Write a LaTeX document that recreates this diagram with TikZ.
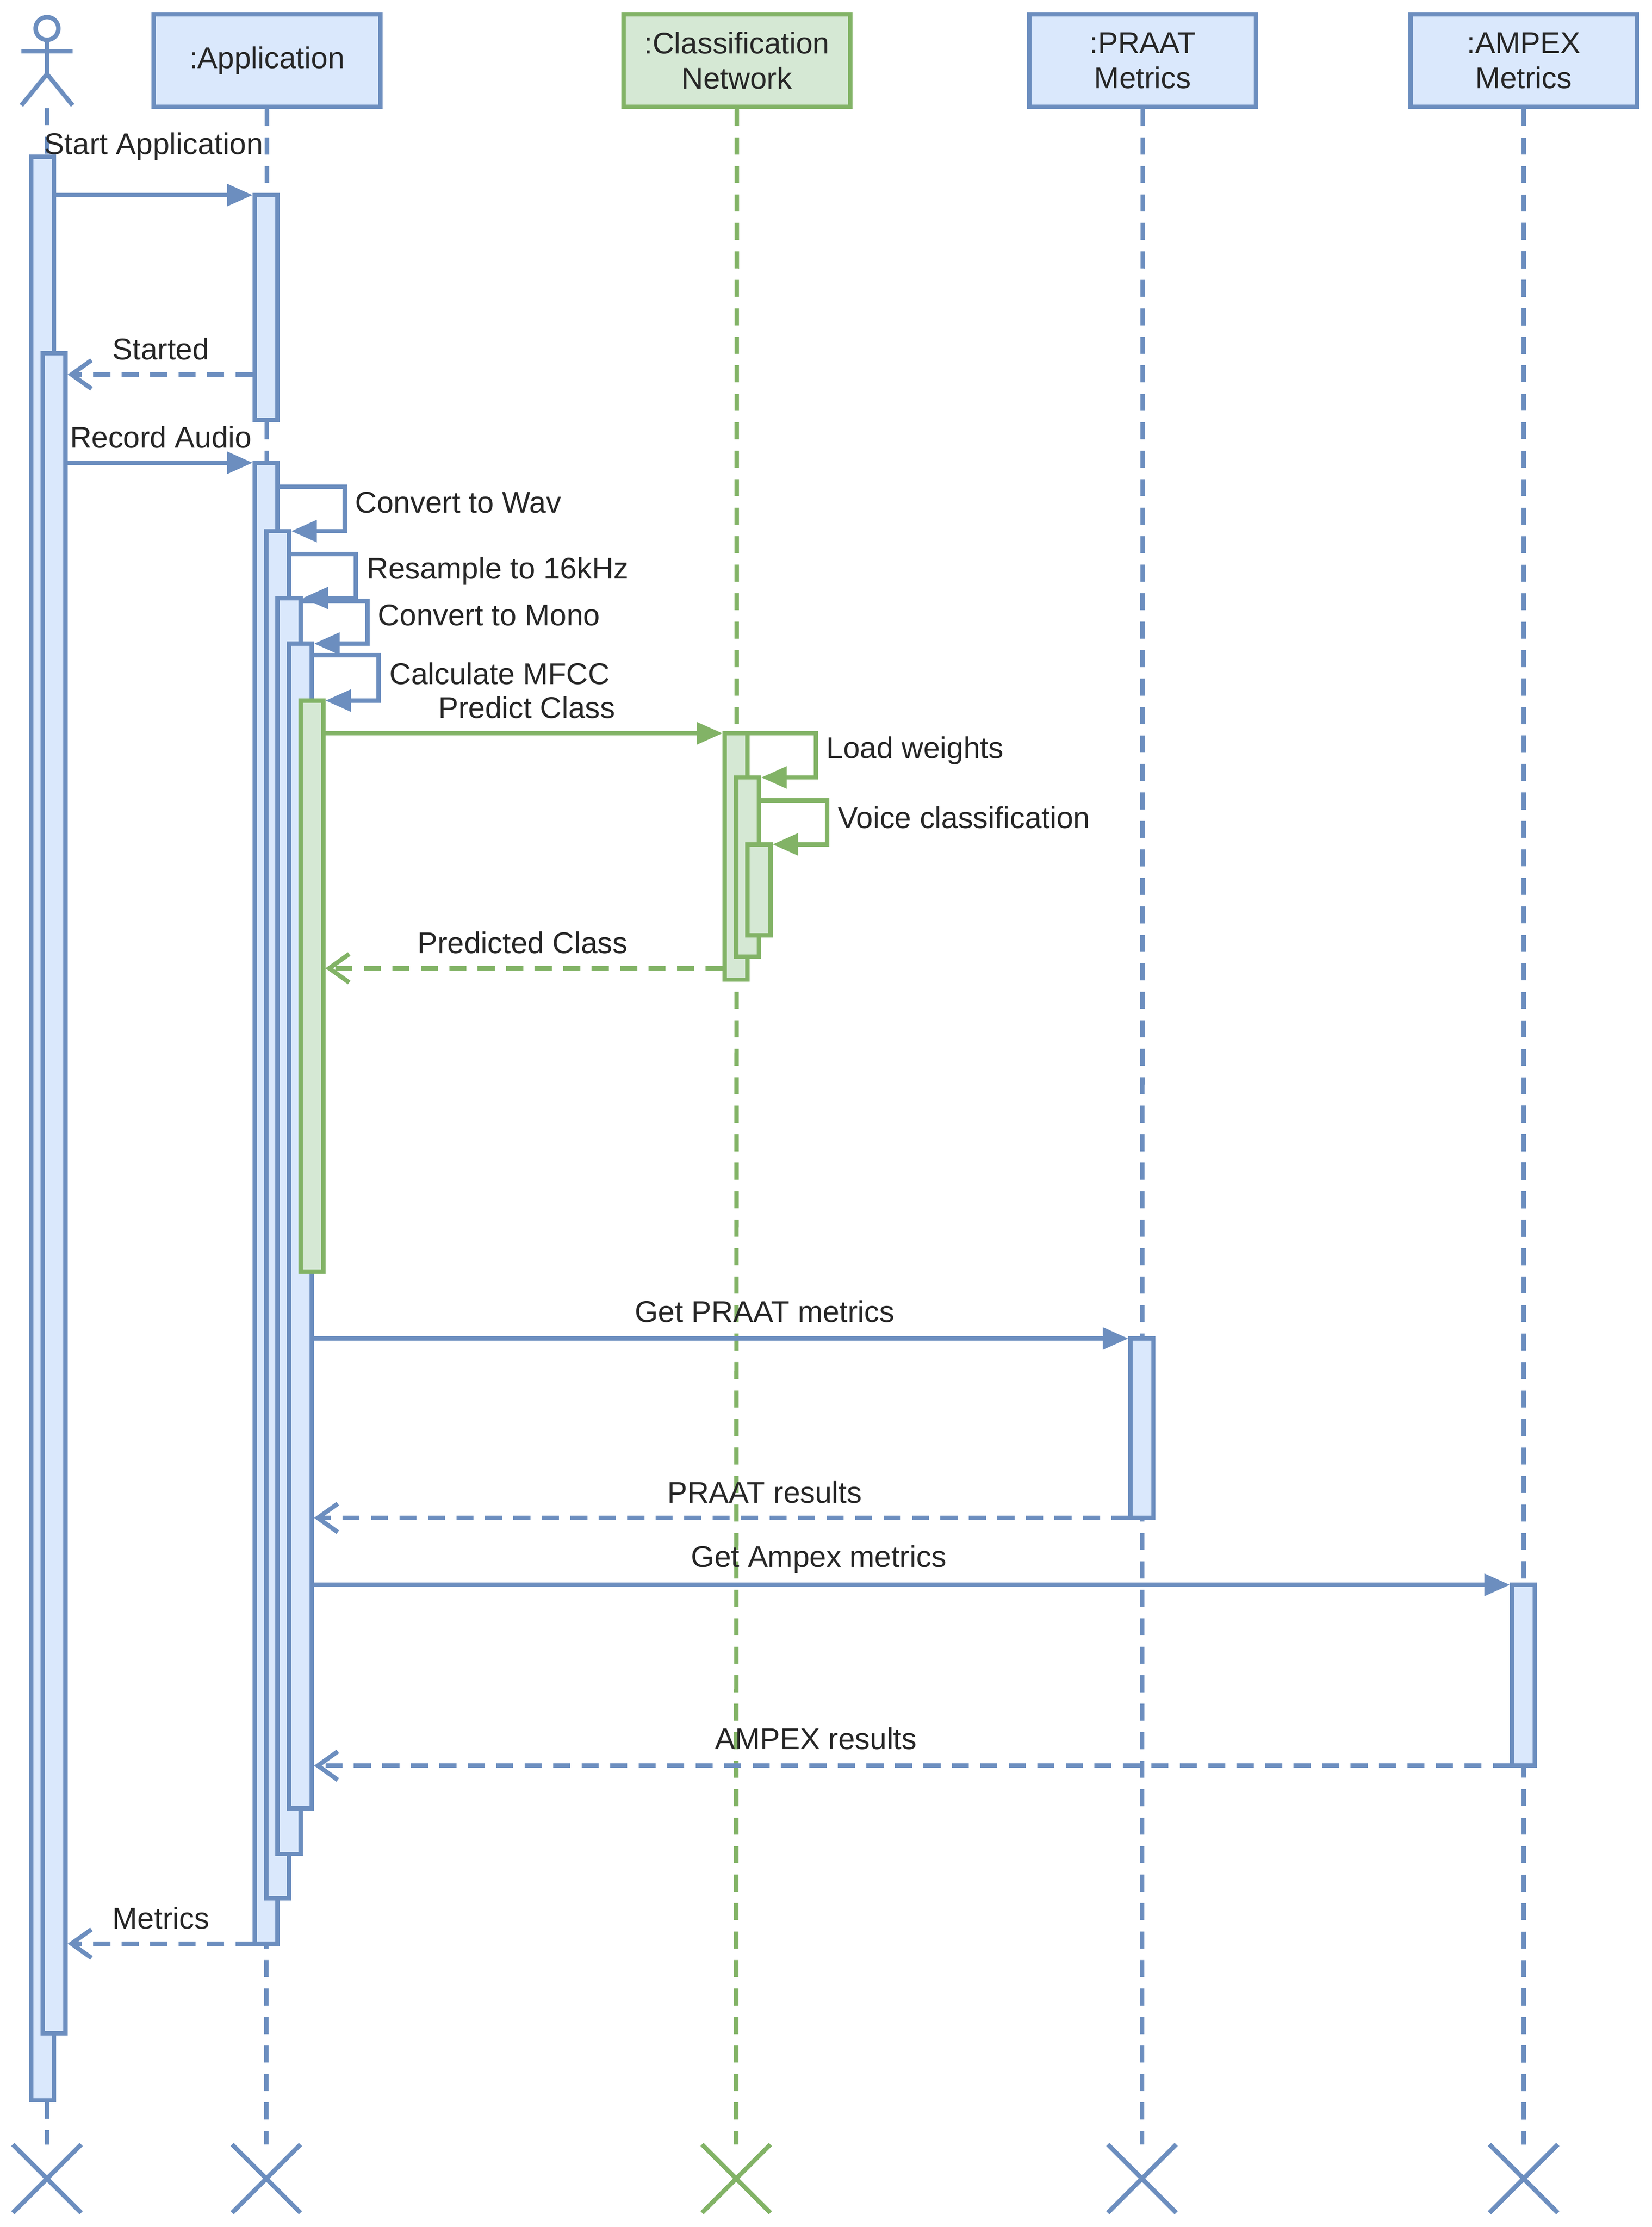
\documentclass[tikz,border=0pt]{standalone}
\usepackage{fontspec}
\setmainfont{Liberation Sans}
\usetikzlibrary{arrows.meta}
\definecolor{bl}{HTML}{6C8EBF}\definecolor{blf}{HTML}{DAE8FC}
\definecolor{gr}{HTML}{82B366}\definecolor{grf}{HTML}{D5E8D4}
\begin{document}
\begin{tikzpicture}[x=0.05cm,y=-0.05cm,line width=4.4pt,
  lab/.style={font=\fontsize{30}{35}\selectfont,text=black!85,inner sep=0},
  box/.style={draw=bl,fill=blf,align=center,minimum width=7.95cm,minimum height=3.25cm,lab,text width=7.5cm},
  gbox/.style={box,draw=gr,fill=grf},
  life/.style={draw=bl,dash pattern=on 0.6cm off 0.4cm},
  glife/.style={life,draw=gr},
  act/.style={draw=bl,fill=blf,inner sep=0},
  gact/.style={draw=gr,fill=grf,inner sep=0},
  msg/.style={draw=bl,-{Triangle[length=0.9cm,width=0.75cm]}},
  gmsg/.style={draw=gr,-{Triangle[length=0.9cm,width=0.75cm,fill=gr]}},
  ret/.style={draw=bl,dash pattern=on 0.6cm off 0.4cm,-{Straight Barb[length=0.7cm,width=1cm]}},
  gret/.style={ret,draw=gr},
  xm/.style={line width=4.5pt}]
\useasboundingbox (0,0) rectangle (1160,1564);
\newcommand\actbar[6]{\pgfmathsetmacro\w{(#4-#2)*0.05}\pgfmathsetmacro\h{(#5-#3)*0.05}%
  \node[#6,minimum width=\w cm,minimum height=\h cm] (#1) at ({(#2+#4)/2},{(#3+#5)/2}) {};}
% heads
\node[box] (app) at (187.5,42.5) {:Application};
\node[gbox] (cn) at (517.5,42.5) {:Classification\\Network};
\node[box] (pr) at (802.5,42.5) {:PRAAT\\Metrics};
\node[box] (am) at (1070,42.5) {:AMPEX\\Metrics};
% actor
\node[draw=bl,circle,minimum size=0.8cm,inner sep=0] (head) at (33,20) {};
\draw[bl] (head.south) -- (33,52) coordinate (hip);
\draw[bl] (15,36) -- (51,36);
\draw[bl] (15,74) -- (hip) -- (51,74);
% end marks
\foreach \n/\x/\c in {ea/33/bl,eb/187/bl,ec/517/gr,ed/802/bl,ee/1070/bl}{
  \coordinate (\n) at (\x,1530);
  \draw[xm,\c] (\x-24,1506) -- (\x+24,1554) (\x-24,1554) -- (\x+24,1506);}
\draw[life] (33,76) -- (33,1506);
\draw[life] (app.south) -- (187,1506);
\draw[glife] (cn.south) -- (517,1506);
\draw[life] (pr.south) -- (802,1506);
\draw[life] (am.south) -- (1070,1506);
% activations
\actbar{u1}{22}{110}{38}{1475}{act}
\actbar{u2}{30}{248}{46}{1428}{act}
\actbar{a0}{179}{137}{195}{295}{act}
\actbar{a1}{179}{325}{195}{1365}{act}
\actbar{a2}{187}{373}{203}{1333}{act}
\actbar{a3}{195}{420}{211}{1302}{act}
\actbar{a4}{203}{452}{219}{1270}{act}
\actbar{a5}{211}{492}{227}{893}{gact}
\actbar{c1}{509}{515}{525}{688}{gact}
\actbar{c2}{517}{546}{533}{672}{gact}
\actbar{c3}{525}{593}{541}{657}{gact}
\actbar{p1}{794}{940}{810}{1066}{act}
\actbar{m1}{1062}{1113}{1078}{1240}{act}
% messages
\draw[msg] (u1.east |- 0,137) -- (a0.west |- 0,137);
\node[lab] (l1) at (108,103) {Start Application};
\draw[ret] (a0.west |- 0,263) -- (u2.east |- 0,263);
\node[lab] (l2) at (113,245) {Started};
\draw[msg] (u2.east |- 0,325) -- (a1.west |- 0,325);
\node[lab] (l3) at (113,307) {Record Audio};
\draw[msg] (a1.east |- 0,342) -- (242,342) -- (242,373) -- (a2.east |- 0,373);
\node[lab,anchor=west] (l4) at (248,353) {Convert to Wav};
\draw[msg] (a2.east |- 0,389) -- (250,389) -- (250,420) -- (a3.east |- 0,420);
\node[lab,anchor=west] (l5) at (256,401) {Resample to 16kHz};
\draw[msg] (a3.east |- 0,422) -- (258,422) -- (258,452) -- (a4.east |- 0,452);
\node[lab,anchor=west] (l6) at (264,432) {Convert to Mono};
\draw[msg] (a4.east |- 0,460) -- (266,460) -- (266,492) -- (a5.east |- 0,492);
\node[lab,anchor=west] (l7) at (272,473) {Calculate MFCC};
\draw[gmsg] (a5.east |- 0,515) -- (c1.west |- 0,515);
\node[lab] (l8) at (370,497) {Predict Class};
\draw[gmsg] (c1.east |- 0,515) -- (573,515) -- (573,546) -- (c2.east |- 0,546);
\node[lab,anchor=west] (l9) at (579,527) {Load weights};
\draw[gmsg] (c2.east |- 0,562) -- (581,562) -- (581,593) -- (c3.east |- 0,593);
\node[lab,anchor=west] (l10) at (587,574) {Voice classification};
\draw[gret] (c1.west |- 0,680) -- (a5.east |- 0,680);
\node[lab] (l11) at (367,662) {Predicted Class};
\draw[msg] (a4.east |- 0,940) -- (p1.west |- 0,940);
\node[lab] (l12) at (537,921) {Get PRAAT metrics};
\draw[ret] (p1.west |- 0,1066) -- (a4.east |- 0,1066);
\node[lab] (l13) at (537,1048) {PRAAT results};
\draw[msg] (a4.east |- 0,1113) -- (m1.west |- 0,1113);
\node[lab] (l14) at (575,1095) {Get Ampex metrics};
\draw[ret] (m1.west |- 0,1240) -- (a4.east |- 0,1240);
\node[lab] (l15) at (573,1221) {AMPEX results};
\draw[ret] (a1.west |- 0,1365) -- (u2.east |- 0,1365);
\node[lab] (l16) at (113,1347) {Metrics};
\end{tikzpicture}
\end{document}
